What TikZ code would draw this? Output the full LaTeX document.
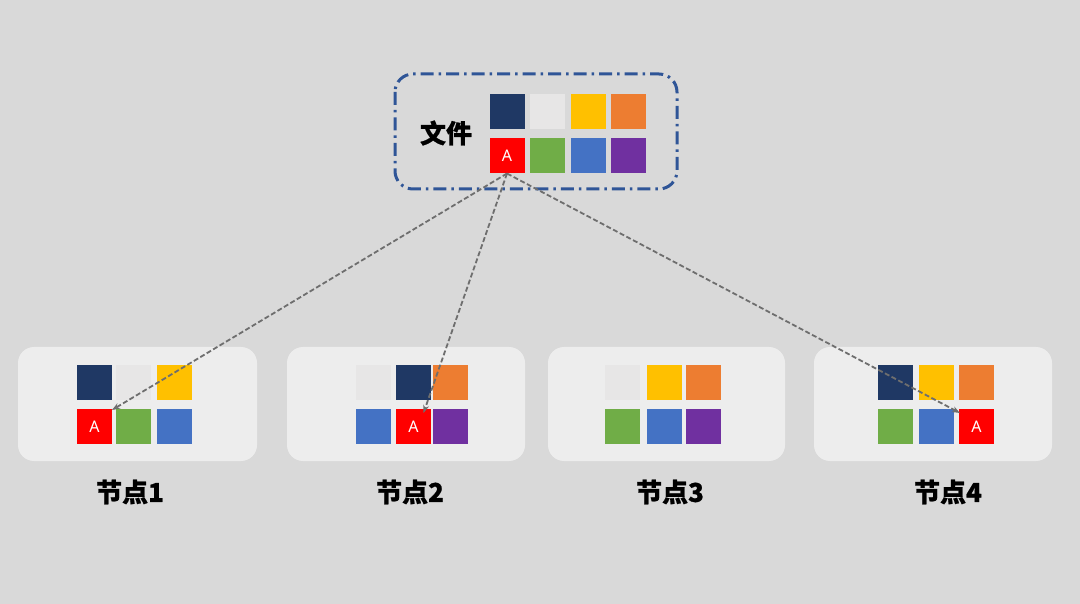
\documentclass[tikz,border=0pt]{standalone}
\usepackage{fontspec}
\newfontfamily\cjk{Noto Sans CJK SC}[BoldFeatures={FakeBold=0.8}]
\newfontfamily\lsans{Noto Sans}
\usetikzlibrary{arrows.meta,calc}
\definecolor{bg}{HTML}{D9D9D9}
\definecolor{boxbg}{HTML}{EDEDED}
\definecolor{cnavy}{HTML}{1F3864}
\definecolor{clgray}{HTML}{E7E6E6}
\definecolor{cyellow}{HTML}{FFC000}
\definecolor{corange}{HTML}{ED7D31}
\definecolor{cred}{HTML}{FF0000}
\definecolor{cgreen}{HTML}{70AD47}
\definecolor{cblue}{HTML}{4472C4}
\definecolor{cpurple}{HTML}{7030A0}
\definecolor{bordblue}{HTML}{2F5597}
\definecolor{arrgray}{HTML}{6E6E6E}
\tikzset{
  sq/.style={minimum size=35pt,inner sep=0pt,outer sep=0pt,fill=#1},
  asq/.style={sq=cred,text=white,font=\lsans\fontsize{16}{16}\selectfont},
  nodebox/.style={fill=boxbg,rounded corners=16pt,inner sep=0pt,outer sep=0pt},
  filebox/.style={draw=bordblue,line width=3pt,rounded corners=18pt,dash pattern=on 13pt off 5pt on 2.5pt off 5pt},
  lbl/.style={font=\cjk\bfseries\fontsize{26}{26}\selectfont,inner sep=0pt},
  conn/.style={draw=arrgray,line width=1.8pt,dash pattern=on 5pt off 2.5pt,-{Stealth[length=8pt,width=6pt]}}
}
\begin{document}
\begin{tikzpicture}[x=1pt,y=-1pt]
\fill[bg] (0,0) rectangle (1080,604);
\useasboundingbox (0,0) rectangle (1080,604);
% file box
\draw[filebox] (395,74) rectangle (677,189);
\node[lbl] (ftxt) at (446,133) {文件};
\node[sq=cnavy] (f1) at (507,112) {};
\node[sq=clgray] (f2) at (547,112) {};
\node[sq=cyellow] (f3) at (588,112) {};
\node[sq=corange] (f4) at (628.5,112) {};
\node[asq] (fA) at (507,156) {A};
\node[sq=cgreen] (f6) at (547,156) {};
\node[sq=cblue] (f7) at (588,156) {};
\node[sq=cpurple] (f8) at (628.5,156) {};
% node boxes
\fill[nodebox] (18,347) rectangle (257,461);
\fill[nodebox] (287,347) rectangle (525,461);
\fill[nodebox] (548,347) rectangle (785,461);
\fill[nodebox] (814,347) rectangle (1052,461);
% node 1
\node[sq=cnavy] (a1) at (94.5,382.5) {};
\node[sq=clgray] (a2) at (133.5,382.5) {};
\node[sq=cyellow] (a3) at (174.5,382.5) {};
\node[asq] (n1A) at (94.5,426.5) {A};
\node[sq=cgreen] (a5) at (133.5,426.5) {};
\node[sq=cblue] (a6) at (174.5,426.5) {};
% node 2
\node[sq=clgray] (b1) at (373.5,382.5) {};
\node[sq=cnavy] (b2) at (413.5,382.5) {};
\node[sq=corange] (b3) at (450.5,382.5) {};
\node[sq=cblue] (b4) at (373.5,426.5) {};
\node[asq] (n2A) at (413.5,426.5) {A};
\node[sq=cpurple] (b6) at (450.5,426.5) {};
% node 3
\node[sq=clgray] (c1) at (622.5,382.5) {};
\node[sq=cyellow] (c2) at (664,382.5) {};
\node[sq=corange] (c3) at (703.5,382.5) {};
\node[sq=cgreen] (c4) at (622.5,426.5) {};
\node[sq=cblue] (c5) at (664,426.5) {};
\node[sq=cpurple] (c6) at (703.5,426.5) {};
% node 4
\node[sq=cnavy] (d1) at (895,382.5) {};
\node[sq=cyellow] (d2) at (936.5,382.5) {};
\node[sq=corange] (d3) at (976.5,382.5) {};
\node[sq=cgreen] (d4) at (895,426.5) {};
\node[sq=cblue] (d5) at (936.5,426.5) {};
\node[asq] (n4A) at (976.5,426.5) {A};
% labels
\node[lbl] (l1) at (130,492) {节点1};
\node[lbl] (l2) at (410,492) {节点2};
\node[lbl] (l3) at (670,492) {节点3};
\node[lbl] (l4) at (948,492) {节点4};
% connectors
\draw[conn] (fA.south) -- ($(n1A.north east)+(0,1)$);
\draw[conn] (fA.south) -- ($(n2A.north)+(10,4)$);
\draw[conn] (fA.south) -- ($(n4A.north west)+(1,4)$);
\end{tikzpicture}
\end{document}
